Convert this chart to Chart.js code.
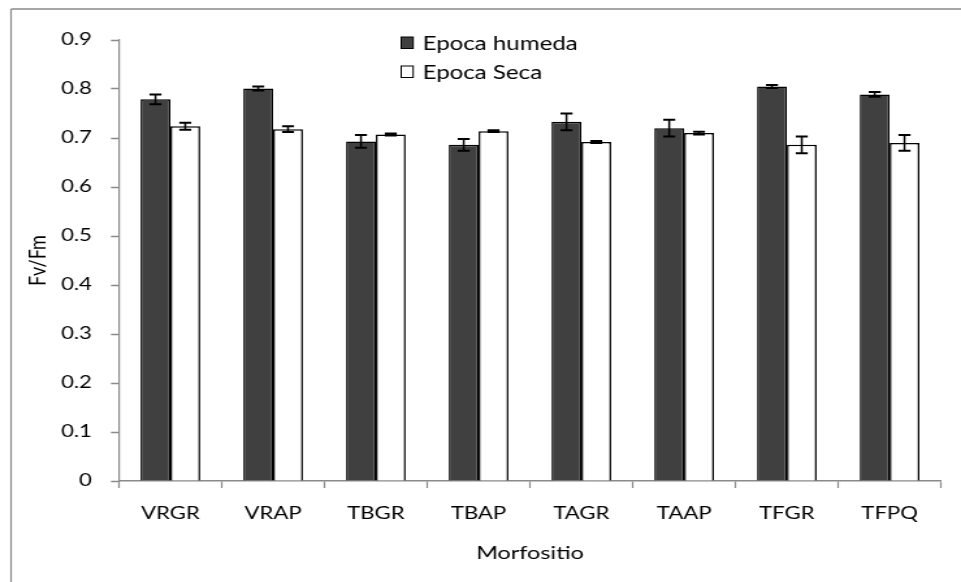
<!DOCTYPE html>
<html>
<head>
<meta charset="utf-8">
<script src="https://cdn.jsdelivr.net/npm/chart.js@4/dist/chart.umd.min.js"></script>
<style>
  html, body { margin: 0; padding: 0; background: #ffffff; overflow: hidden; }
  #wrap { width: 961px; height: 582px; position: relative; }
  #c { display: block; }
</style>
</head>
<body>
<div id="wrap">
  <!-- drawing surface is 739 px wide, shown stretched to 961 px -->
  <canvas id="c" width="739" height="582" style="width:961px;height:582px;"></canvas>
</div>
<script>
// Fv/Fm by morphosite, wet and dry season (mean ± error)
const categories = ['VRGR', 'VRAP', 'TBGR', 'TBAP', 'TAGR', 'TAAP', 'TFGR', 'TFPQ'];
const seriesNames = ['Epoca humeda', 'Epoca Seca'];
const humedaValues = [0.779, 0.801, 0.693, 0.686, 0.733, 0.720, 0.805, 0.789];
const humedaErrors = [0.010, 0.004, 0.013, 0.012, 0.017, 0.017, 0.003, 0.005];
const secaValues   = [0.724, 0.718, 0.707, 0.714, 0.692, 0.710, 0.686, 0.690];
const secaErrors   = [0.007, 0.006, 0.002, 0.002, 0.002, 0.003, 0.017, 0.016];
const yTicks = [0, 0.1, 0.2, 0.3, 0.4, 0.5, 0.6, 0.7, 0.8, 0.9];

const FONT = 'Lato, "Open Sans", sans-serif';
const AXIS_GRAY = '#8a8a8a';

// outer frame of the chart object (left and top edges are visible)
const framePlugin = {
  id: 'frame',
  beforeDraw(chart) {
    const ctx = chart.ctx;
    ctx.save();
    ctx.fillStyle = '#ffffff';
    ctx.fillRect(0, 0, chart.width, chart.height);
    ctx.strokeStyle = AXIS_GRAY;
    ctx.lineWidth = 1.2;
    ctx.beginPath();
    ctx.moveTo(8.5, chart.height + 5);
    ctx.lineTo(8.5, 9);
    ctx.stroke();
    ctx.lineWidth = 1.5;
    ctx.beginPath();
    ctx.moveTo(8.5, 9);
    ctx.lineTo(chart.width + 5, 9);
    ctx.stroke();
    ctx.restore();
  }
};

// vertical error bars with caps on every bar
const errorBarPlugin = {
  id: 'errorBars',
  afterDatasetsDraw(chart) {
    const ctx = chart.ctx;
    const yScale = chart.scales.y;
    ctx.save();
    ctx.strokeStyle = '#000000';
    chart.data.datasets.forEach((ds, di) => {
      const meta = chart.getDatasetMeta(di);
      meta.data.forEach((bar, i) => {
        const v = ds.data[i];
        const e = ds.errors[i];
        const x = bar.x;
        const yTop = yScale.getPixelForValue(v + e);
        const yBot = yScale.getPixelForValue(v - e);
        const half = 4.6;
        ctx.lineWidth = 1.5;
        ctx.beginPath();
        ctx.moveTo(x, yTop);
        ctx.lineTo(x, yBot);
        ctx.stroke();
        ctx.lineWidth = 2;
        ctx.beginPath();
        ctx.moveTo(x - half, yTop);
        ctx.lineTo(x + half, yTop);
        ctx.moveTo(x - half, yBot);
        ctx.lineTo(x + half, yBot);
        ctx.stroke();
      });
    });
    ctx.restore();
  }
};

// stacked legend inside the plot area
const legendPlugin = {
  id: 'stackedLegend',
  afterDraw(chart) {
    const ctx = chart.ctx;
    ctx.save();
    ctx.font = '18.5px ' + FONT;
    ctx.textBaseline = 'middle';
    ctx.textAlign = 'left';
    chart.data.datasets.forEach((ds, i) => {
      const bx = 308.5, by = 37 + i * 29, w = 9.2, h = 11.5;
      ctx.fillStyle = ds.backgroundColor;
      ctx.fillRect(bx, by, w, h);
      ctx.strokeStyle = '#000000';
      ctx.lineWidth = 1;
      ctx.strokeRect(bx, by, w, h);
      ctx.fillStyle = '#000000';
      ctx.fillText(ds.label, 325, by + h / 2 + 1);
    });
    ctx.restore();
  }
};

new Chart(document.getElementById('c'), {
  type: 'bar',
  data: {
    labels: categories,
    datasets: [
      {
        label: seriesNames[0],
        data: humedaValues,
        errors: humedaErrors,
        backgroundColor: '#404040',
        borderColor: '#000000',
        borderWidth: 1.5
      },
      {
        label: seriesNames[1],
        data: secaValues,
        errors: secaErrors,
        backgroundColor: '#ffffff',
        borderColor: '#000000',
        borderWidth: 1.5
      }
    ]
  },
  options: {
    responsive: false,
    maintainAspectRatio: false,
    animation: false,
    devicePixelRatio: 1,
    categoryPercentage: 0.58,
    barPercentage: 1.0,
    layout: { padding: { top: 40, right: 15.4, left: 0, bottom: 0 } },
    plugins: {
      legend: { display: false },
      tooltip: { enabled: false }
    },
    scales: {
      x: {
        grid: {
          offset: true,
          drawOnChartArea: false,
          drawTicks: true,
          tickLength: 7,
          tickWidth: 1.2,
          tickColor: AXIS_GRAY
        },
        border: { color: AXIS_GRAY, width: 1.5 },
        ticks: { color: '#000000', font: { family: FONT, size: 17 }, padding: 15 },
        title: {
          display: true,
          text: 'Morfositio',
          color: '#000000',
          font: { family: FONT, size: 18 },
          padding: { top: 0, bottom: 18 }
        },
        afterFit(scale) { scale.height = 101; }
      },
      y: {
        min: 0,
        max: 0.9,
        afterBuildTicks(scale) { scale.ticks = yTicks.map(v => ({ value: v })); },
        grid: {
          drawOnChartArea: false,
          drawTicks: true,
          tickLength: 6.2,
          tickWidth: 1.5,
          tickColor: AXIS_GRAY
        },
        border: { color: AXIS_GRAY, width: 1.2 },
        ticks: { color: '#000000', font: { family: FONT, size: 17 }, padding: 14.6 },
        title: {
          display: true,
          text: 'Fv/Fm',
          color: '#000000',
          font: { family: FONT, size: 18 },
          padding: { top: 18.5, bottom: 0 }
        },
        afterFit(scale) { scale.width = 91.5; }
      }
    }
  },
  plugins: [framePlugin, errorBarPlugin, legendPlugin]
});
</script>
</body>
</html>
